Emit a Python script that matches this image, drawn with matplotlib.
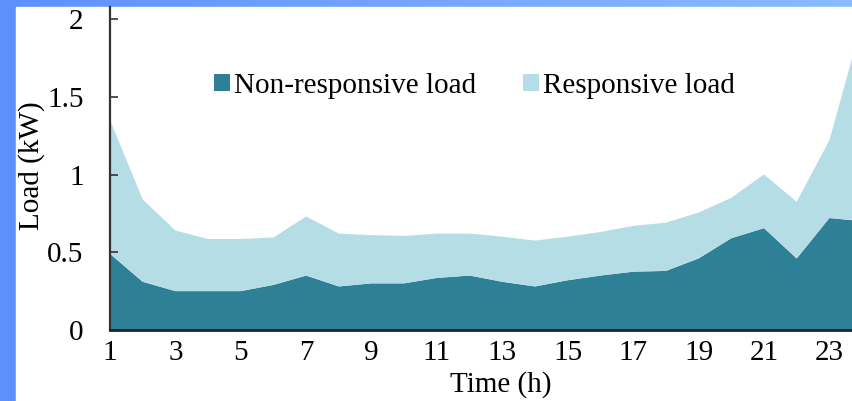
import numpy as np
import matplotlib
matplotlib.use("Agg")
import matplotlib.pyplot as plt
from matplotlib.patches import Rectangle

# Hourly household load split into non-responsive and responsive parts (kW)
hours = list(range(1, 25))
non_responsive = [0.49, 0.31, 0.25, 0.25, 0.25, 0.29, 0.35, 0.28, 0.30, 0.30, 0.335, 0.35,
                  0.31, 0.28, 0.32, 0.35, 0.375, 0.38, 0.46, 0.59, 0.655, 0.46, 0.72, 0.70]
responsive = [0.86, 0.53, 0.39, 0.335, 0.335, 0.305, 0.38, 0.34, 0.31, 0.305, 0.285, 0.27,
              0.29, 0.295, 0.28, 0.28, 0.295, 0.31, 0.295, 0.26, 0.345, 0.365, 0.50, 1.28]
series_labels = ["Non-responsive load", "Responsive load"]
xticks = list(range(1, 24, 2))
yticks = [0, 0.5, 1, 1.5, 2]

dark_teal = "#2e8096"
light_blue = "#b5dde6"

W, H = 853, 401
fig = plt.figure(figsize=(W / 100, H / 100), dpi=100)
plt.rcParams["font.family"] = ["Liberation Serif", "DejaVu Serif"]
FS = 21

# Slide-style blue frame with a soft horizontal gradient
bg = fig.add_axes([0, 0, 1, 1], zorder=0)
bg.set_axis_off()
grad = np.linspace(0, 1, 256)
c0 = np.array([94, 144, 252]) / 255
c1 = np.array([138, 188, 255]) / 255
img = (c0[None, :] * (1 - grad[:, None]) + c1[None, :] * grad[:, None])[None, :, :]
bg.imshow(img, aspect="auto", extent=[0, 1, 0, 1])
bg.set_xlim(0, 1)
bg.set_ylim(0, 1)
bg.add_patch(Rectangle((16 / W, 0), 1, 1 - 7 / H, color="white", zorder=2))

# Plot area: y=0 at pixel 330, y=2 at pixel 19, hour 1 at pixel 110, ~32.7 px per hour
px_per_unit = (330 - 19) / 2.0
ymax = (330 - 7) / px_per_unit
x_left, x_right = 110, 110 + 23 * 32.7
ax = fig.add_axes([x_left / W, (H - 330) / H, (x_right - x_left) / W, (330 - 7) / H], zorder=1)
ax.patch.set_alpha(0)

ax.stackplot(hours, non_responsive, responsive, colors=[dark_teal, light_blue],
             labels=series_labels, linewidth=0)

ax.set_xlim(1, 24)
ax.set_ylim(0, ymax)
ax.set_xticks(xticks)
ax.set_yticks(yticks)
ax.set_yticklabels(["0", "0.5", "1", "1.5", "2"])

for s in ["top", "right"]:
    ax.spines[s].set_visible(False)
ax.spines["left"].set_color("#333333")
ax.spines["left"].set_linewidth(1.6)
ax.spines["bottom"].set_color("#222222")
ax.spines["bottom"].set_linewidth(2.0)
ax.spines["left"].set_zorder(5)
ax.spines["bottom"].set_zorder(5)

ax.tick_params(axis="y", direction="in", length=6, width=1.2, color="#333333",
               labelsize=FS, pad=19)
ax.tick_params(axis="x", length=0, labelsize=FS, pad=7)

ax.set_xlabel("Time (h)", fontsize=FS)
ax.xaxis.set_label_coords((501 - x_left) / (x_right - x_left), -0.128)
ax.set_ylabel("Load (kW)", fontsize=FS)
ax.yaxis.set_label_coords(-0.086, 0.51)

leg = fig.legend(loc="center", bbox_to_anchor=(0.556, 1 - 86 / H), ncol=2, frameon=False,
                 fontsize=FS, handlelength=0.55, handleheight=0.55, handletextpad=0.15,
                 columnspacing=1.6)

fig.savefig("out.png", dpi=100)
